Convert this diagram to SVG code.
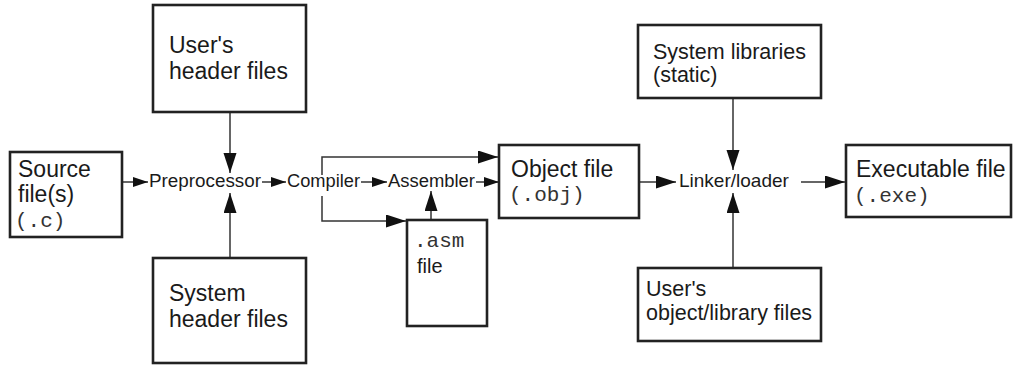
<svg xmlns="http://www.w3.org/2000/svg" width="1013" height="367" viewBox="0 0 1013 367">
<style>
.box{fill:#fff;stroke:#222;stroke-width:2.6}
.t{font-family:"Liberation Sans",Arial,sans-serif;fill:#1a1a1a}
.big{font-size:23px}
.mid{font-size:21.5px}
.lab{font-size:18px}
.mono{font-family:"Liberation Mono","Courier New",monospace;font-size:21px;fill:#333}
.c{fill:none;stroke:#333;stroke-width:1.5}
</style>
<defs>
<marker id="ah" markerUnits="userSpaceOnUse" markerWidth="16" markerHeight="11" refX="15" refY="5" orient="auto">
<path d="M0,0 L15,5 L0,10 z" fill="#111"/>
</marker>
<marker id="ahl" markerUnits="userSpaceOnUse" markerWidth="21" markerHeight="14" refX="20" refY="6.5" orient="auto">
<path d="M0,0 L20,6.5 L0,13 z" fill="#111"/>
</marker>
</defs>
<rect width="1013" height="367" fill="#fff"/>
<g id="connectors">
<line class="c" x1="122" y1="182" x2="148" y2="182" marker-end="url(#ah)"/>
<line class="c" x1="262" y1="182" x2="286" y2="182" marker-end="url(#ah)"/>
<line class="c" x1="361" y1="182" x2="387" y2="182" marker-end="url(#ah)"/>
<line class="c" x1="476" y1="182" x2="499" y2="182" marker-end="url(#ah)"/>
<polyline class="c" points="322,175 322,157 498,157" marker-end="url(#ahl)"/>
<polyline class="c" points="322,196 322,221 406,221" marker-end="url(#ahl)"/>
<line class="c" x1="431" y1="220" x2="431" y2="191" marker-end="url(#ahl)"/>
<line class="c" x1="230" y1="112" x2="230" y2="173" marker-end="url(#ahl)"/>
<line class="c" x1="230" y1="258" x2="230" y2="193" marker-end="url(#ahl)"/>
<line class="c" x1="639" y1="182" x2="676" y2="182" marker-end="url(#ahl)"/>
<line class="c" x1="801" y1="182" x2="845" y2="182" marker-end="url(#ahl)"/>
<line class="c" x1="733" y1="98" x2="733" y2="170" marker-end="url(#ahl)"/>
<line class="c" x1="733" y1="268" x2="733" y2="193" marker-end="url(#ahl)"/>
</g>
<g id="source">
<rect class="box" x="10" y="152" width="112" height="85"/>
<text class="t big" x="18" y="177">Source</text>
<text class="t big" x="18" y="202">file(s)</text>
<text class="mono" x="15" y="227">(.c)</text>
</g>
<g id="user-headers">
<rect class="box" x="153" y="5" width="153" height="107"/>
<text class="t big" x="169" y="53">User's</text>
<text class="t big" x="169" y="79">header files</text>
</g>
<g id="system-headers">
<rect class="box" x="153" y="258" width="153" height="105"/>
<text class="t big" x="169" y="301">System</text>
<text class="t big" x="169" y="327">header files</text>
</g>
<g id="preprocessor">
<text class="t lab" x="149" y="187" textLength="112" lengthAdjust="spacingAndGlyphs">Preprocessor</text>
</g>
<g id="compiler">
<text class="t lab" x="287" y="187" textLength="73" lengthAdjust="spacingAndGlyphs">Compiler</text>
</g>
<g id="assembler">
<text class="t lab" x="388" y="187" textLength="87" lengthAdjust="spacingAndGlyphs">Assembler</text>
</g>
<g id="asm-file">
<rect class="box" x="407" y="220" width="80" height="106"/>
<text class="mono" x="414" y="247" style="font-size:21px">.asm</text>
<text class="t" x="417" y="273" style="font-size:20px">file</text>
</g>
<g id="object-file">
<rect class="box" x="499" y="145" width="140" height="73"/>
<text class="t big" x="511" y="177">Object file</text>
<text class="mono" x="509" y="201">(.obj)</text>
</g>
<g id="linker">
<text class="t" x="679" y="187" style="font-size:19px">Linker/loader</text>
</g>
<g id="system-libraries">
<rect class="box" x="638" y="25" width="183" height="73"/>
<text class="t mid" x="653" y="59">System libraries</text>
<text class="t mid" x="653" y="82">(static)</text>
</g>
<g id="user-libraries">
<rect class="box" x="638" y="268" width="183" height="73"/>
<text class="t mid" x="646" y="296">User's</text>
<text class="t mid" x="646" y="320">object/library files</text>
</g>
<g id="executable">
<rect class="box" x="846" y="145" width="165" height="72"/>
<text class="t big" x="856" y="177">Executable file</text>
<text class="mono" x="854" y="202">(.exe)</text>
</g>
</svg>
